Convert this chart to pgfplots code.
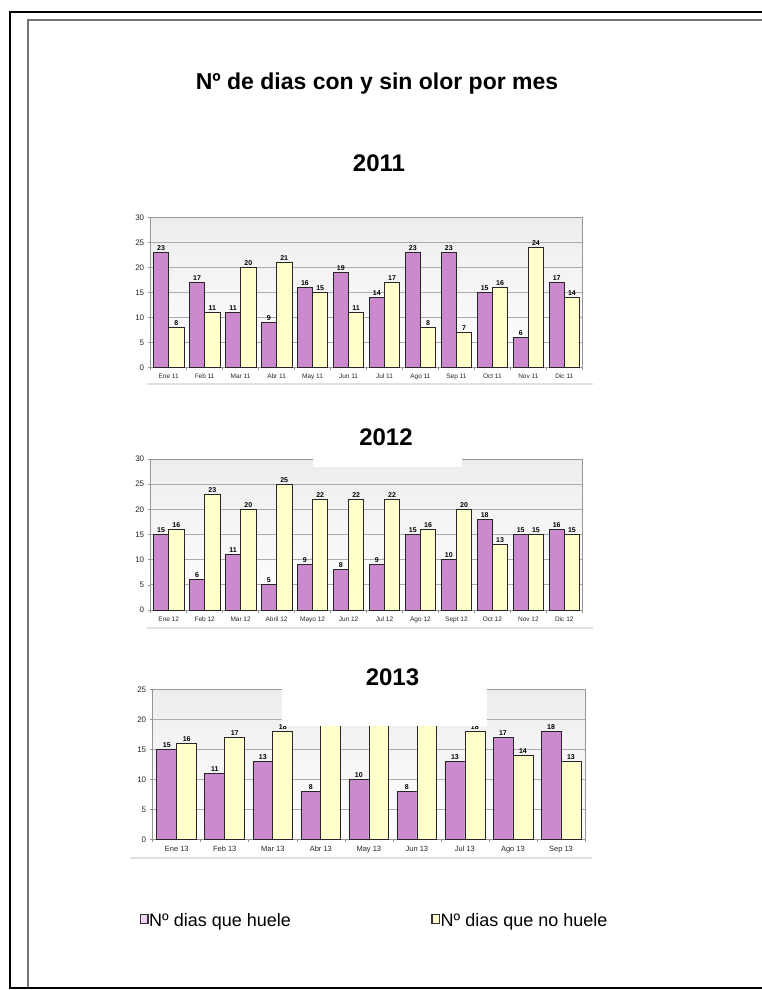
\documentclass[border=0pt]{standalone}
\usepackage{pgfplots}
\pgfplotsset{compat=1.18}
\usepackage{fontspec}
\setmainfont{Liberation Sans}

\definecolor{huele}{RGB}{204,138,206}
\definecolor{nohuele}{RGB}{255,255,204}
\definecolor{rejilla}{RGB}{172,172,172}
\definecolor{marco}{RGB}{150,150,150}

\pgfplotsset{
  olor/.style={
    scale only axis,
    anchor=south west,
    ymin=0,
    xmin=-0.5,
    ybar,
    bar width=#1,
    axis background/.style={shade, top color=black!7, bottom color=white},
    axis line style={marco, line width=0.7pt},
    ymajorgrids,
    major grid style={rejilla, line width=0.7pt},
    tick align=outside,
    xtick pos=left, ytick pos=left,
    major tick length=3pt, minor tick length=3pt,
    tick style={marco, line width=0.6pt},
    every major x tick/.style={draw=none},
    /pgf/number format/assume math mode=true,
    yticklabel style={font=\fontsize{8}{9}\selectfont, text=black!85},
    xticklabel style={font=\fontsize{6.5}{7}\selectfont, text=black!85},
    nodes near coords,
    every node near coord/.append style={font=\fontsize{7}{8}\selectfont\bfseries,
      text=black, inner sep=1.5pt},
  },
  huele/.style={fill=huele, draw=black!85, line width=0.7pt, bar shift=-#1},
  nohuele/.style={fill=nohuele, draw=black!85, line width=0.7pt, bar shift=#1},
}

\begin{document}
\begin{tikzpicture}[x=1pt, y=1pt]
\path[use as bounding box] (0,0) rectangle (761,-990);

% page frame
\draw[black, line width=2.2pt] (770,-12) -- (10,-12) -- (10,-988) -- (770,-988);
\draw[black!55, line width=1.2pt] (770,-20) -- (28,-20) -- (28,-987);

% main title
\node[anchor=base, font=\fontsize{23}{26}\selectfont\bfseries] at (377,-89.5)
  {Nº de dias con y sin olor por mes};

% ---------------- 2011 ----------------
\node[anchor=base, font=\fontsize{24}{26}\selectfont\bfseries] at (379,-171.5) {2011};
\begin{axis}[olor=0.425,
  at={(150.7pt,-367.3pt)}, width=431.6pt, height=150pt,
  ymax=30, ytick={0,5,...,30},
  xmax=11.5, xtick={0,...,11},
  minor xtick={-0.5,0.5,...,11.5},
  xticklabels={Ene 11,Feb 11,Mar 11,Abr 11,May 11,Jun 11,Jul 11,Ago 11,Sep 11,Oct 11,Nov 11,Dic 11},
]
\addplot[huele=0.2125] coordinates {(0,23) (1,17) (2,11) (3,9) (4,16) (5,19) (6,14) (7,23) (8,23) (9,15) (10,6) (11,17)};
\addplot[nohuele=0.2125] coordinates {(0,8) (1,11) (2,20) (3,21) (4,15) (5,11) (6,17) (7,8) (8,7) (9,16) (10,24) (11,14)};
\end{axis}
\draw[black!12, line width=2pt] (147,-384) -- (593,-384);

% ---------------- 2012 ----------------
\begin{axis}[olor=0.425,
  at={(150.7pt,-610pt)}, width=431.6pt, height=151pt,
  ymax=30, ytick={0,5,...,30},
  xmax=11.5, xtick={0,...,11},
  minor xtick={-0.5,0.5,...,11.5},
  xticklabels={Ene 12,Feb 12,Mar 12,Abril 12,Mayo 12,Jun 12,Jul 12,Ago 12,Sept 12,Oct 12,Nov 12,Dic 12},
]
\addplot[huele=0.2125] coordinates {(0,15) (1,6) (2,11) (3,5) (4,9) (5,8) (6,9) (7,15) (8,10) (9,18) (10,15) (11,16)};
\addplot[nohuele=0.2125] coordinates {(0,16) (1,23) (2,20) (3,25) (4,22) (5,22) (6,22) (7,16) (8,20) (9,13) (10,15) (11,15)};
\end{axis}
\draw[black!12, line width=2pt] (147,-628) -- (593,-628);
\fill[white] (313,-418) rectangle (462,-467);
\node[anchor=base, font=\fontsize{24}{26}\selectfont\bfseries] at (386,-445) {2012};

% ---------------- 2013 ----------------
\begin{axis}[olor=0.415,
  at={(152.7pt,-839.3pt)}, width=432.3pt, height=150pt,
  ymax=25, ytick={0,5,...,25},
  xmax=8.5, xtick={0,...,8},
  minor xtick={-0.5,0.5,...,8.5},
  xticklabel style={font=\fontsize{7.5}{8}\selectfont},
  xticklabels={Ene 13,Feb 13,Mar 13,Abr 13,May 13,Jun 13,Jul 13,Ago 13,Sep 13},
]
\addplot[huele=0.2075] coordinates {(0,15) (1,11) (2,13) (3,8) (4,10) (5,8) (6,13) (7,17) (8,18)};
\addplot[nohuele=0.2075] coordinates {(0,16) (1,17) (2,18) (3,22) (4,21) (5,22) (6,18) (7,14) (8,13)};
\end{axis}
\draw[black!12, line width=2pt] (130,-858) -- (592,-858);
\fill[white] (282,-640) rectangle (487,-726);
\node[anchor=base, font=\fontsize{24}{26}\selectfont\bfseries] at (392.5,-685) {2013};

% legend
\draw[black!80, line width=1.3pt, fill=huele!35] (140.5,-914.5) rectangle (148,-923.5);
\node[anchor=base west, inner sep=0pt, font=\fontsize{18}{20}\selectfont] at (149,-926.5) {Nº dias que huele};
\draw[black!80, line width=1.3pt, fill=nohuele] (432,-914.5) rectangle (439.5,-923.5);
\node[anchor=base west, inner sep=0pt, font=\fontsize{18}{20}\selectfont] at (440.5,-926.5) {Nº dias que no huele};
\end{tikzpicture}
\end{document}
